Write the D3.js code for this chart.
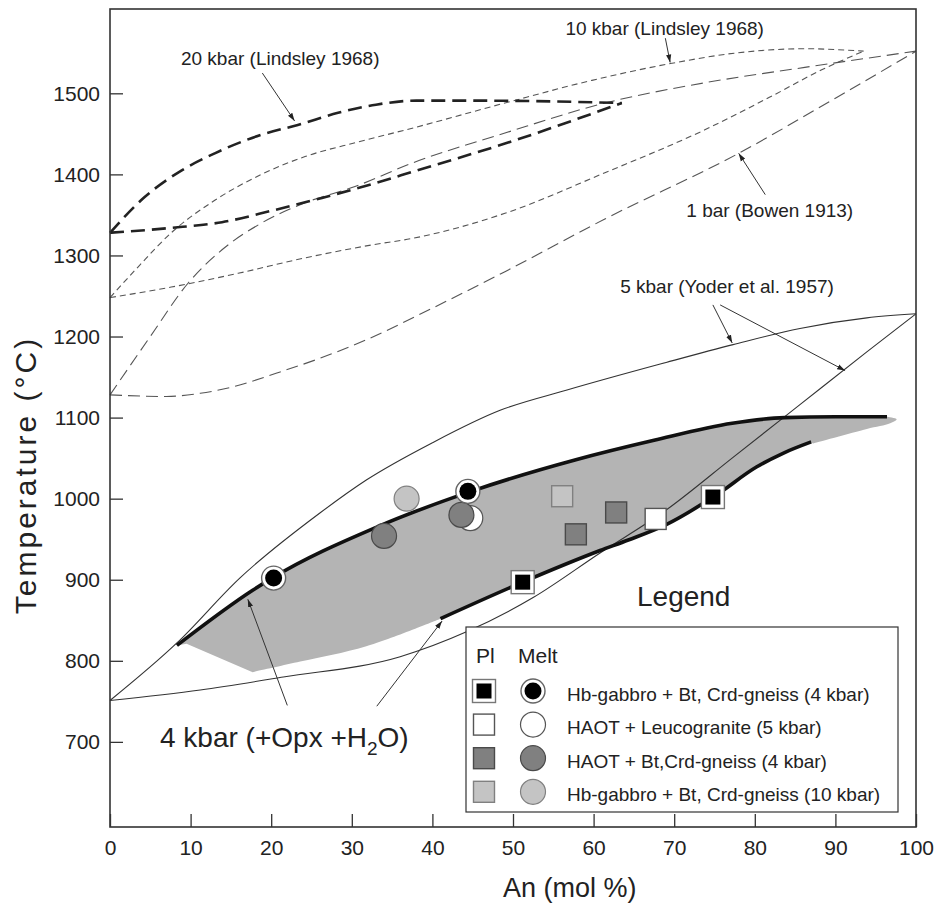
<!DOCTYPE html>
<html>
<head>
<meta charset="utf-8">
<script src="https://cdn.jsdelivr.net/npm/d3@7"></script>
<style>
  body { margin: 0; background: #fff; }
  text { font-family: "Liberation Sans", Arial, Helvetica, sans-serif; fill: #222; }
</style>
</head>
<body>
<svg id="chart" width="936" height="904"></svg>
<script>
// ---- data: [An mol %, T °C] ----
const kbar20Liquidus = [[0,1328],[4.3,1372],[8.9,1405],[13,1426],[18.8,1449],[23.3,1461],[28.3,1476],[33,1486],[38,1491],[45,1491],[55,1490],[63.5,1488]]
const kbar20Solidus  = [[0,1328],[7.6,1334],[13.9,1341],[20,1355],[26.3,1371],[32.5,1388],[37.8,1404],[49,1438],[63.5,1488]]

const kbar10Liquidus = [[0,1248],[3.5,1286],[7.6,1328],[13,1368],[18.8,1400],[24.2,1422],[30.8,1440],[37.5,1457],[49,1488],[59.8,1516],[69.7,1537],[77.9,1550],[86.2,1555],[93.5,1552]]
const kbar10Solidus  = [[0,1248],[7.6,1261],[15.9,1278],[24.2,1297],[32.5,1313],[37.5,1321],[49,1352],[61.4,1402],[73.8,1455],[82,1496],[88.3,1529],[93.5,1552]]

const bar1Liquidus = [[0,1128],[5,1200],[9.7,1266],[13.9,1307],[18.8,1340],[24.2,1365],[30.4,1385],[37.5,1414],[49,1451],[61.4,1488],[73.8,1513],[86.2,1532],[100,1552]]
const bar1Solidus  = [[0,1128],[7,1126],[11.2,1130],[15.3,1138],[20.7,1155],[26,1173],[31.8,1196],[40,1235],[49,1280],[61.4,1345],[78,1426],[90,1494],[100,1552]]

const kbar5Liquidus = [[0,751],[8.3,822],[16.1,902],[26,982],[31.8,1023],[40,1069],[48.4,1109],[56.7,1134],[69,1168],[77.3,1190],[85.6,1210],[93.9,1223],[100,1228]]
const kbar5Solidus  = [[0,751],[11.2,764],[21.5,780],[36,805],[44.3,836],[52.5,878],[60.8,933],[69,986],[77.3,1051],[85.6,1116],[93.9,1181],[100,1228]]

const kbar4Upper = [[8.3,819],[17.7,887],[20.1,902],[33.1,965],[44.8,1009],[57.8,1048],[67.5,1072],[77.2,1093],[83.7,1100],[90,1101],[96.4,1101]]
const kbar4Lower = [[41,852],[51.2,897],[60.8,936],[64.3,949],[69,968],[75.3,1005],[80.2,1039],[83.5,1056],[87,1070]]
const grayTip    = [[96.4,1101],[97.6,1098],[96.8,1093],[93.9,1086],[87.2,1068]]
const grayBottom = [[41,852],[31.8,818],[23.6,799],[17.7,786]]
const grayCorner = [[17.7,786],[9.5,821]]

// samples: Pl (squares) and Melt (circles)
const meltBlack = [[20.3,902],[44.4,1009]]
const meltWhite = [[44.7,976]]
const meltDark  = [[34,954],[43.6,980]]
const meltLight = [[36.8,1000]]
const plBlack = [[51.2,897],[74.8,1002]]
const plWhite = [[67.7,975]]
const plDark  = [[57.8,956],[62.8,983]]
const plLight = [[56.1,1003]]

const xTicks = [0,10,20,30,40,50,60,70,80,90,100]
const yTicks = [700,800,900,1000,1100,1200,1300,1400,1500]

const legendKinds  = ['black','white','dark','light']
const legendLabels = ['Hb-gabbro + Bt, Crd-gneiss (4 kbar)','HAOT + Leucogranite (5 kbar)','HAOT + Bt,Crd-gneiss (4 kbar)','Hb-gabbro + Bt, Crd-gneiss (10 kbar)']

// annotations: text, [x,y] of text start, arrows [from, to] in data units
const notes = [
  {text: '20 kbar (Lindsley 1968)', at: [8.8,1535], arrows: [[[18.9,1525],[22.9,1466]]]},
  {text: '10 kbar (Lindsley 1968)', at: [56.5,1572], arrows: [[[68.9,1568],[69.5,1538]]]},
  {text: '1 bar (Bowen 1913)', at: [71.5,1347], arrows: [[[81.3,1375],[78,1426]]]},
  {text: '5 kbar (Yoder et al. 1957)', at: [63.3,1254], arrows: [[[74.8,1239],[77.2,1192]], [[75.7,1239],[91.2,1158]]]}
]
const kbar4Arrows = [[[22,745],[17.1,876]], [[33.1,744],[41.2,849]]]

// ---- chart ----
const svg = d3.select('#chart')
const x = d3.scaleLinear().domain([0,100]).range([110,916])
const y = d3.scaleLinear().domain([595,1604]).range([827,9])

const smooth = d3.line().x(d => x(d[0])).y(d => y(d[1])).curve(d3.curveMonotoneX)
const round = d3.line().x(d => x(d[0])).y(d => y(d[1])).curve(d3.curveCatmullRom.alpha(0.5))
const straight = d3.line().x(d => x(d[0])).y(d => y(d[1]))

svg.append('defs').append('marker')
  .attr('id','arr').attr('viewBox','0 -3 8 6')
  .attr('refX',8).attr('refY',0)
  .attr('markerWidth',8).attr('markerHeight',6)
  .attr('markerUnits','userSpaceOnUse')
  .attr('orient','auto')
  .append('path').attr('d','M0,-2.6L8,0L0,2.6Z').attr('fill','#222')

// gray 4 kbar field
const grayPath = smooth(kbar4Upper)
  + round(grayTip).replace(/^M/,'L')
  + round(kbar4Lower.slice().reverse()).replace(/^M/,'L')
  + round(grayBottom).replace(/^M/,'L')
  + straight(grayCorner).replace(/^M/,'L') + 'Z'
svg.append('path').attr('d', grayPath).attr('fill','#b4b4b4')

// experimental loops
const loops = [
  {d: bar1Liquidus, w: 1.1, c: '#555', dash: '12,6'},
  {d: bar1Solidus, w: 1.1, c: '#555', dash: '12,6'},
  {d: kbar10Liquidus, w: 1.1, c: '#555', dash: '6,4'},
  {d: kbar10Solidus, w: 1.1, c: '#555', dash: '6,4'},
  {d: kbar20Liquidus, w: 2.6, c: '#222', dash: '14,7'},
  {d: kbar20Solidus, w: 2.6, c: '#222', dash: '14,7'},
  {d: kbar5Liquidus, w: 1.1, c: '#333', dash: null},
  {d: kbar5Solidus, w: 1.1, c: '#333', dash: null},
  {d: kbar4Upper, w: 3.6, c: '#111', dash: null},
  {d: kbar4Lower, w: 3.6, c: '#111', dash: null}
]
svg.append('g').selectAll('path').data(loops).join('path')
  .attr('d', d => smooth(d.d))
  .attr('fill','none')
  .attr('stroke', d => d.c)
  .attr('stroke-width', d => d.w)
  .attr('stroke-dasharray', d => d.dash)

// frame + axes
svg.append('rect').attr('x',x(0)).attr('y',y(1604)).attr('width',x(100)-x(0)).attr('height',y(595)-y(1604))
  .attr('fill','none').attr('stroke','#333').attr('stroke-width',1.6)

const xAxis = svg.append('g').attr('transform',`translate(0,${y(595)})`)
  .call(d3.axisBottom(x).tickValues(xTicks).tickFormat(d3.format('d')).tickSizeInner(-13).tickSizeOuter(0).tickPadding(13))
const yAxis = svg.append('g').attr('transform',`translate(${x(0)},0)`)
  .call(d3.axisLeft(y).tickValues(yTicks).tickFormat(d3.format('d')).tickSizeInner(-13).tickSizeOuter(0).tickPadding(10))
;[xAxis, yAxis].forEach(a => {
  a.select('.domain').remove()
  a.selectAll('line').attr('stroke','#333').attr('stroke-width',1.3)
  a.selectAll('text').attr('font-size',21).attr('font-family','"Liberation Sans", Arial, sans-serif').attr('fill','#222')
})

svg.append('text').attr('x',503).attr('y',897).attr('font-size',27).text('An (mol %)')
svg.append('text').attr('transform','translate(36,475) rotate(-90)')
  .attr('text-anchor','middle').attr('font-size',30).attr('letter-spacing',3)
  .text('Temperature (°C)')

// markers
const kinds = {
  white: {fill: '#fff', stroke: '#555'},
  dark:  {fill: '#808080', stroke: '#4a4a4a'},
  light: {fill: '#c4c4c4', stroke: '#808080'}
}
function circle(g, kind, cx, cy) {
  if (kind === 'black') {
    g.append('circle').attr('cx',cx).attr('cy',cy).attr('r',12).attr('fill','#fff').attr('stroke','#666').attr('stroke-width',1.4)
    g.append('circle').attr('cx',cx).attr('cy',cy).attr('r',8.5).attr('fill','#000')
  } else {
    g.append('circle').attr('cx',cx).attr('cy',cy).attr('r',12.5)
      .attr('fill',kinds[kind].fill).attr('stroke',kinds[kind].stroke).attr('stroke-width',1.2)
  }
}
function square(g, kind, cx, cy) {
  if (kind === 'black') {
    g.append('rect').attr('x',cx-11.5).attr('y',cy-11.5).attr('width',23).attr('height',23)
      .attr('fill','#fff').attr('stroke','#777').attr('stroke-width',1.4)
    g.append('rect').attr('x',cx-7.5).attr('y',cy-7.5).attr('width',15).attr('height',15).attr('fill','#000')
  } else {
    g.append('rect').attr('x',cx-10.5).attr('y',cy-10.5).attr('width',21).attr('height',21)
      .attr('fill',kinds[kind].fill).attr('stroke',kinds[kind].stroke).attr('stroke-width',1.4)
  }
}
const pts = svg.append('g')
;[['white',meltWhite,circle],['dark',meltDark,circle],['light',meltLight,circle],['black',meltBlack,circle],
  ['light',plLight,square],['dark',plDark,square],['white',plWhite,square],['black',plBlack,square]]
  .forEach(([k, arr, fn]) => arr.forEach(p => fn(pts, k, x(p[0]), y(p[1]))))

// annotations
const ann = svg.append('g')
notes.forEach(n => {
  ann.append('text').attr('x',x(n.at[0])).attr('y',y(n.at[1])).attr('font-size',19).text(n.text)
  n.arrows.forEach(a => ann.append('path').attr('d',straight(a)).attr('stroke','#333').attr('stroke-width',1).attr('fill','none').attr('marker-end','url(#arr)'))
})
kbar4Arrows.forEach(a => ann.append('path').attr('d',straight(a)).attr('stroke','#333').attr('stroke-width',1).attr('fill','none').attr('marker-end','url(#arr)'))
const t4 = ann.append('text').attr('x',160).attr('y',747).attr('font-size',28)
t4.append('tspan').text('4 kbar (+Opx +H')
t4.append('tspan').attr('font-size',19).attr('dy',8).text('2')
t4.append('tspan').attr('dy',-8).text('O)')

// legend
svg.append('text').attr('x',637).attr('y',606).attr('font-size',28).text('Legend')
const lg = svg.append('g')
lg.append('rect').attr('x',466).attr('y',627).attr('width',432).attr('height',185)
  .attr('fill','#fff').attr('stroke','#333').attr('stroke-width',1.2)
lg.append('text').attr('x',476).attr('y',663).attr('font-size',21).text('Pl')
lg.append('text').attr('x',518).attr('y',663).attr('font-size',21).text('Melt')
legendKinds.forEach((k, i) => {
  const cy = 691 + i * 33.6
  square(lg, k, 484, cy)
  circle(lg, k, 533, cy)
  lg.append('text').attr('x',567).attr('y',cy + 9.5).attr('font-size',19).text(legendLabels[i])
})
</script>
</body>
</html>
